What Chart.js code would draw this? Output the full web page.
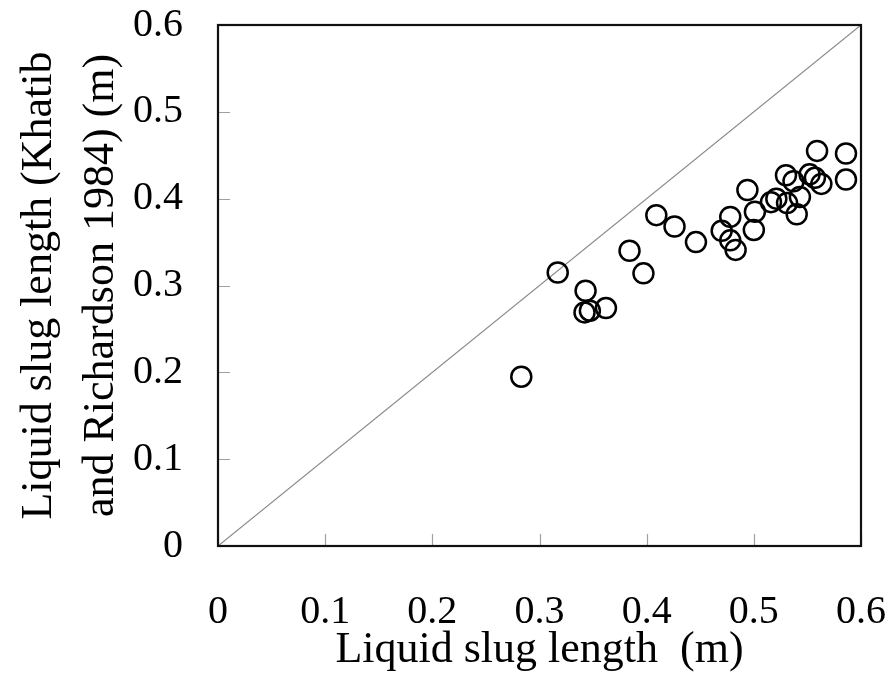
<!DOCTYPE html>
<html>
<head>
<meta charset="utf-8">
<script src="https://cdn.jsdelivr.net/npm/chart.js@4.4.1/dist/chart.umd.min.js"></script>
<style>
  body { margin: 0; background: #fff; }
  canvas { display: block; }
</style>
</head>
<body>
<canvas id="chart" width="891" height="686"></canvas>
<script>
// =====================================================
// DATA
// =====================================================

// measured liquid slug length (m) - x axis
const measured = [
  0.283, 0.317, 0.343, 0.342, 0.347, 0.362, 0.384, 0.397, 0.409, 0.426,
  0.446, 0.470, 0.478, 0.478, 0.483, 0.494, 0.500, 0.501, 0.516, 0.521,
  0.530, 0.531, 0.537, 0.540, 0.543, 0.552, 0.557, 0.559, 0.563, 0.586,
  0.586
];

// predicted by Khatib and Richardson 1984 (m) - y axis
const khatib = [
  0.195, 0.315, 0.294, 0.269, 0.271, 0.274, 0.340, 0.314, 0.381, 0.368,
  0.350, 0.363, 0.379, 0.352, 0.341, 0.410, 0.364, 0.385, 0.396, 0.400,
  0.427, 0.395, 0.420, 0.382, 0.402, 0.428, 0.424, 0.455, 0.417, 0.452,
  0.422
];

// 1:1 reference line end points
const diagonal = [0, 0.6];

// tick labels, same for both axes
const tickLabels = ['0', '0.1', '0.2', '0.3', '0.4', '0.5', '0.6'];

const serif = 'Liberation Serif';

// draws the black frame and the small inward gray ticks
const framePlugin = {
  id: 'frame',
  afterDatasetsDraw(chart) {
    const { ctx, chartArea: a, scales } = chart;
    ctx.save();

    // inward tick marks
    ctx.strokeStyle = '#a0a0a0';
    ctx.lineWidth = 1.2;
    ctx.beginPath();
    scales.x.ticks.forEach(t => {
      const px = Math.round(scales.x.getPixelForValue(t.value)) + 0.5;
      ctx.moveTo(px, a.bottom);
      ctx.lineTo(px, a.bottom - 12);
    });
    scales.y.ticks.forEach(t => {
      const py = Math.round(scales.y.getPixelForValue(t.value)) + 0.5;
      ctx.moveTo(a.left, py);
      ctx.lineTo(a.left + 12, py);
    });
    ctx.stroke();

    // frame round the plot area
    ctx.strokeStyle = '#111';
    ctx.lineWidth = 2.2;
    ctx.strokeRect(a.left, a.top, a.right - a.left, a.bottom - a.top);
    ctx.restore();
  }
};

new Chart(document.getElementById('chart'), {
  type: 'scatter',
  data: {
    datasets: [
      {
        label: 'data',
        data: measured.map((x, i) => ({ x: x, y: khatib[i] })),
        pointStyle: 'circle',
        pointRadius: 10,
        pointBorderWidth: 2.5,
        pointBorderColor: '#000',
        pointBackgroundColor: 'rgba(0,0,0,0)'
      },
      {
        label: '1:1',
        type: 'line',
        data: diagonal.map(v => ({ x: v, y: v })),
        borderColor: '#8a8a8a',
        borderWidth: 1.2,
        pointRadius: 0
      }
    ]
  },
  options: {
    responsive: false,
    animation: false,
    layout: { padding: { top: 25, right: 30, left: 0, bottom: 0 } },
    plugins: {
      legend: { display: false },
      tooltip: { enabled: false }
    },
    scales: {
      x: {
        type: 'linear',
        min: 0,
        max: 0.6,
        // fixed height, and no extra room for the end labels
        afterFit: s => { s.height = 140; s.paddingLeft = 0; s.paddingRight = 0; },
        grid: { display: false, drawTicks: false },
        border: { display: false },
        ticks: {
          stepSize: 0.1,
          autoSkip: false,
          maxRotation: 0,
          padding: 42,
          color: '#000',
          font: { family: serif, size: 40 },
          callback: (v, i) => tickLabels[i]
        },
        title: {
          display: true,
          text: 'Liquid slug length  (m)',
          color: '#000',
          font: { family: serif, size: 44 },
          padding: { top: 0, bottom: 9 }
        }
      },
      y: {
        type: 'linear',
        min: 0,
        max: 0.6,
        afterFit: s => { s.width = 218; s.paddingTop = 0; s.paddingBottom = 0; },
        grid: { display: false, drawTicks: false },
        border: { display: false },
        ticks: {
          stepSize: 0.1,
          autoSkip: false,
          padding: 35,
          color: '#000',
          font: { family: serif, size: 40 },
          callback: (v, i) => tickLabels[i]
        },
        title: {
          display: true,
          text: ['Liquid slug length (Khatib', 'and Richardson 1984) (m)'],
          color: '#000',
          font: { family: serif, size: 44, lineHeight: 1.4 },
          padding: { top: 9, bottom: 0 }
        }
      }
    }
  },
  plugins: [framePlugin]
});
</script>
</body>
</html>
